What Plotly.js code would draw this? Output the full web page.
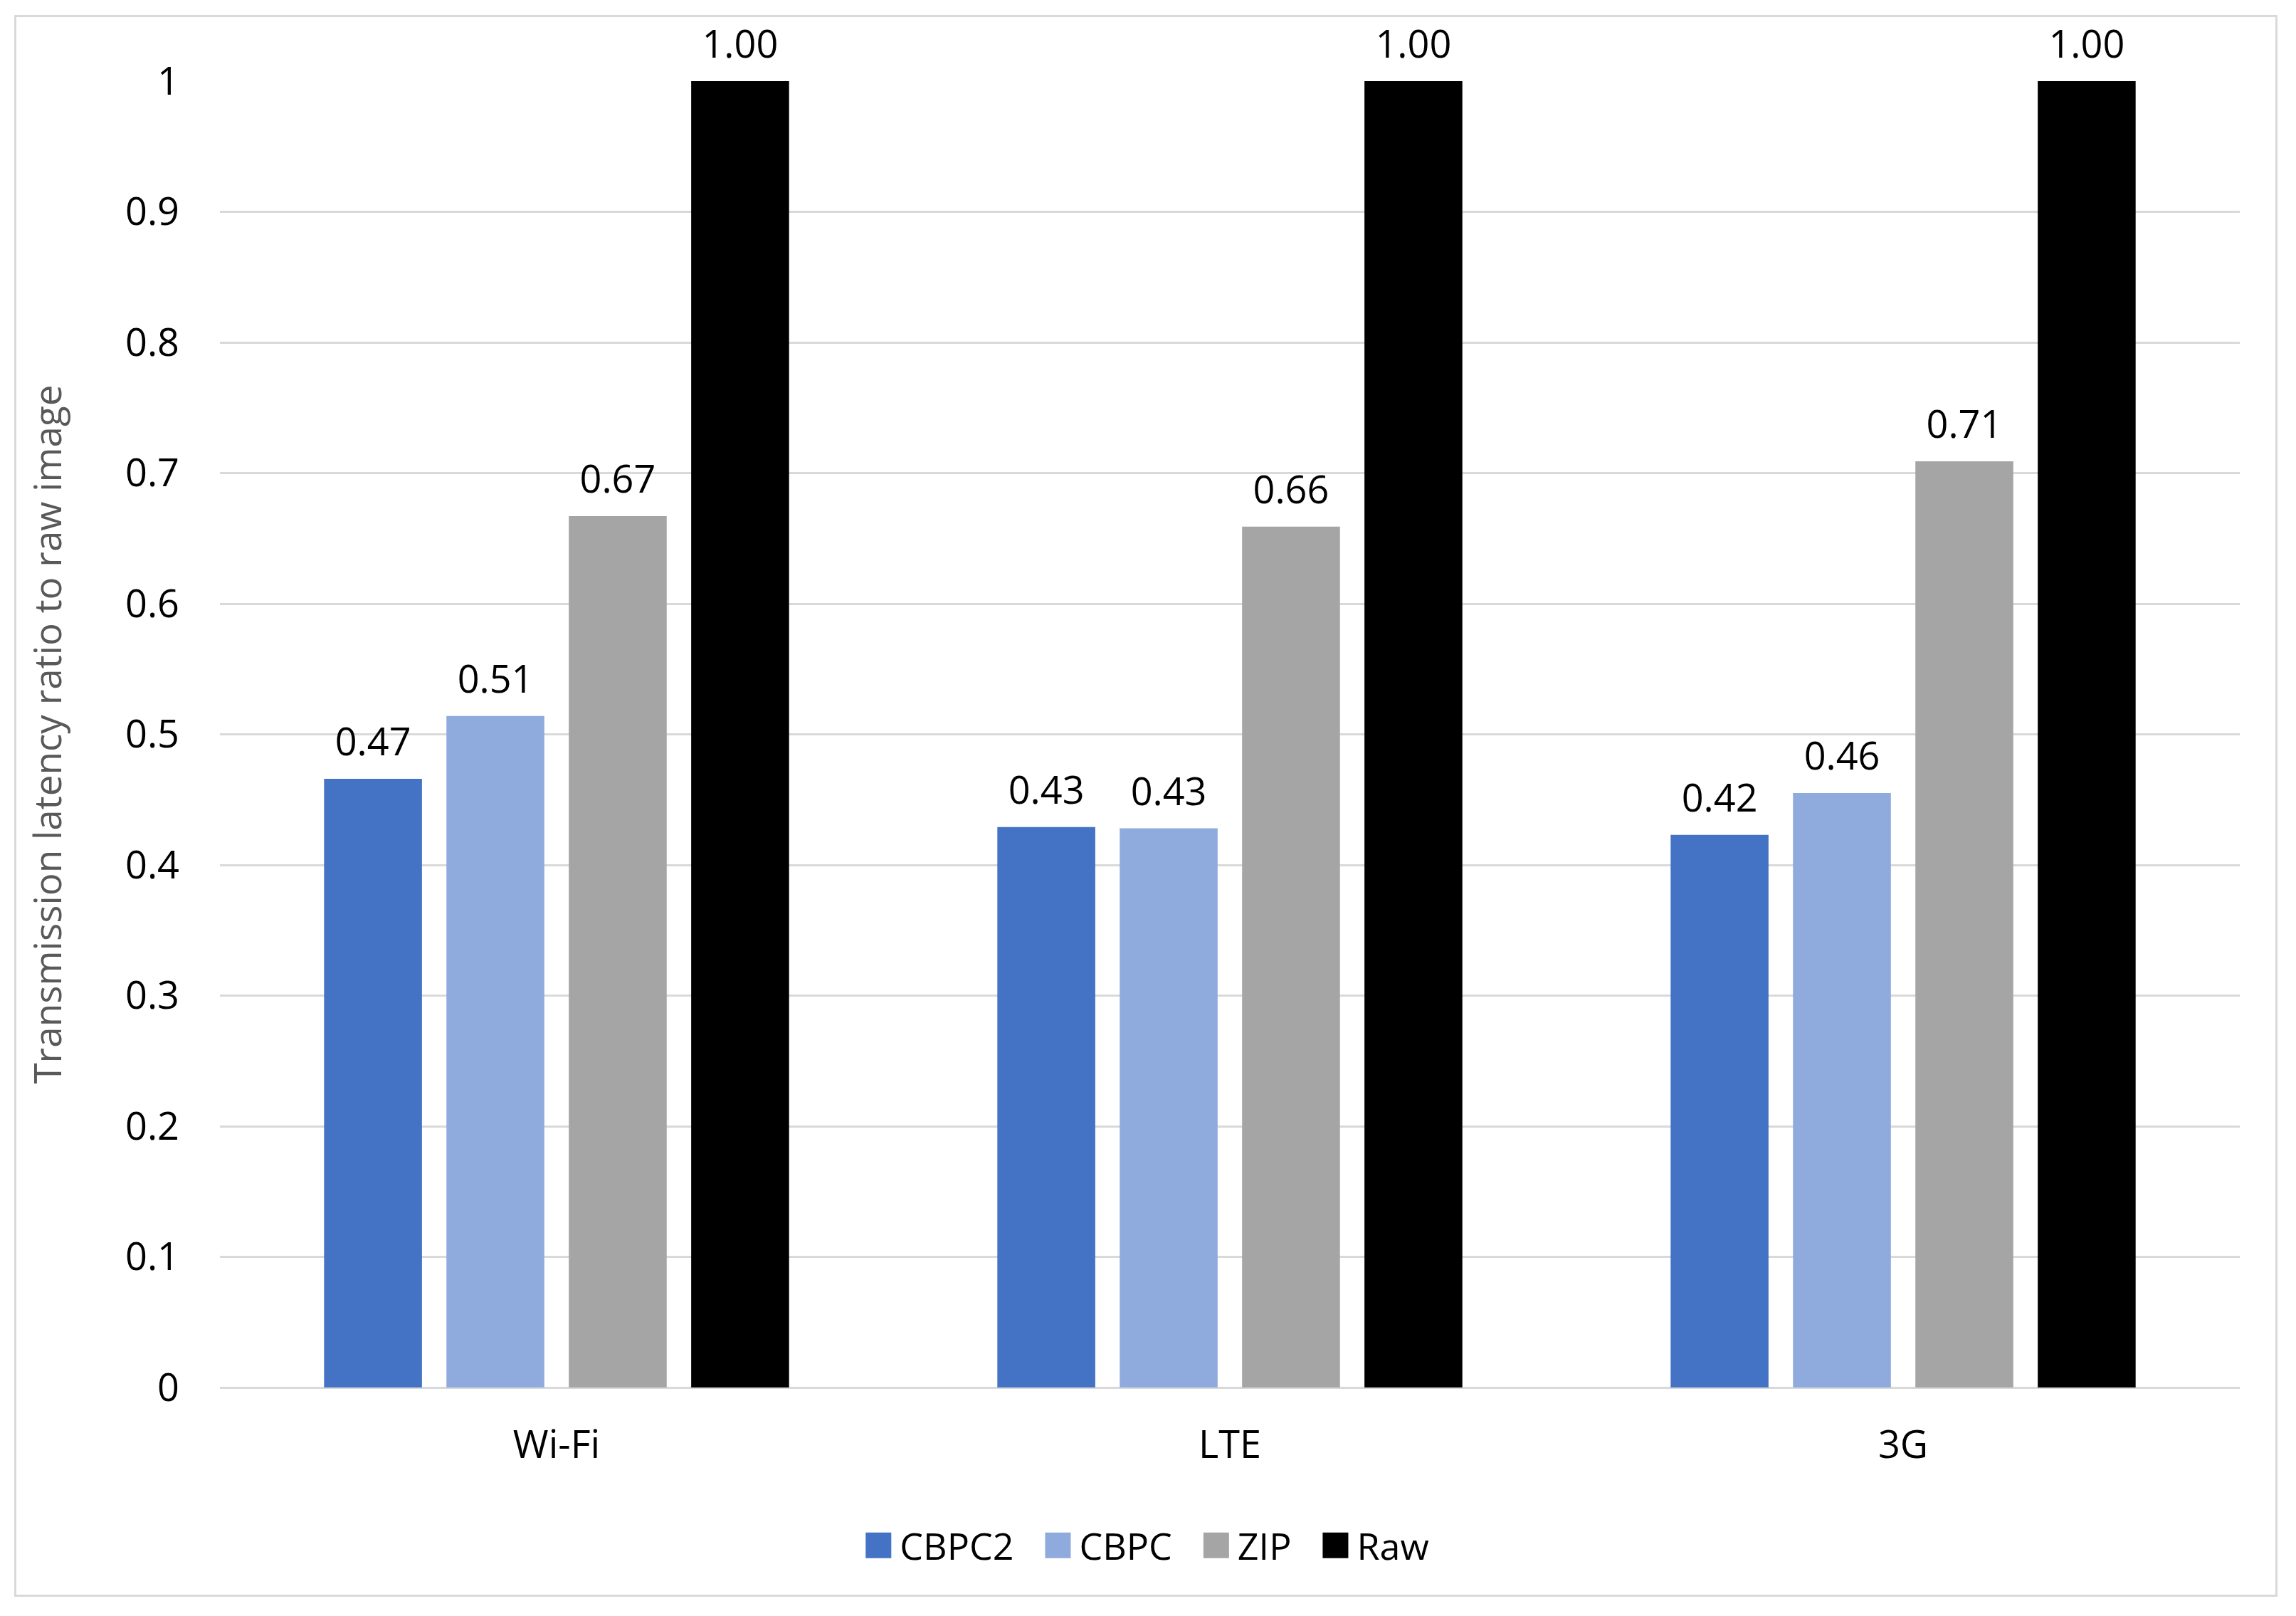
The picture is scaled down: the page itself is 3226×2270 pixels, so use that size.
<!DOCTYPE html>
<html>
<head>
<meta charset="utf-8">
<script src="https://cdn.plot.ly/plotly-3.0.1.min.js"></script>
<style>
  body { margin: 0; background: #fff; }
  #chart { position: absolute; left: 20px; top: 21px; width: 3180px; height: 2222px;
           border: 3px solid #d9d9d9; box-sizing: border-box; }
</style>
</head>
<body>
<div id="chart"></div>
<script>
// categorias (redes) e séries
var redes = ['Wi-Fi', 'LTE', '3G'];
var seriesNomes = ['CBPC2', 'CBPC', 'ZIP', 'Raw'];
var cbpc2 = [0.466, 0.429, 0.423];
var cbpc = [0.514, 0.428, 0.455];
var zip = [0.667, 0.659, 0.709];
var raw = [1.0, 1.0, 1.0];
var cores = ['#4472c4', '#8faadc', '#a5a5a5', '#000000'];
var yTicks = [0, 0.1, 0.2, 0.3, 0.4, 0.5, 0.6, 0.7, 0.8, 0.9, 1];

var fonte = 'Open Sans, Lato, sans-serif';
var valores = [cbpc2, cbpc, zip, raw];

var data = [];
for (var i in valores) {
  data.push({
    type: 'bar',
    x: redes,
    y: valores[i],
    // espaço extra depois do nome p/ afastar os itens da legenda
    name: seriesNomes[i] + (i < valores.length - 1 ? '\u00a0\u00a0' : ''),
    marker: {color: cores[i]},
    texttemplate: '%{y:.2f}',
    textposition: 'outside',
    textfont: {family: fonte, size: 54, color: '#000'},
    cliponaxis: false,
    hoverinfo: 'x+y'
  });
}

var layout = {
  width: 3174, height: 2216,
  margin: {l: 286, r: 50, t: 90, b: 291},
  paper_bgcolor: '#fff', plot_bgcolor: '#fff',
  barmode: 'group',
  bargap: 0.273,
  bargroupgap: 0.2,
  font: {family: fonte, size: 52, color: '#000'},
  showlegend: true,
  // legenda centrada na figura toda, não na área do gráfico
  legend: {orientation: 'h', x: 0.458, xanchor: 'center', y: -0.121, yanchor: 'middle',
           font: {family: fonte, size: 52, color: '#000'}, itemwidth: 50, traceorder: 'normal'},
  xaxis: {
    showgrid: false, zeroline: false, showline: false, ticks: '',
    ticklabelstandoff: 44,
    tickfont: {family: fonte, size: 54, color: '#000'}
  },
  yaxis: {
    range: [0, 1], tickvals: yTicks, ticktext: yTicks.map(String),
    showgrid: true, gridcolor: '#d9d9d9', gridwidth: 3,
    zeroline: true, zerolinecolor: '#d9d9d9', zerolinewidth: 3,
    showline: false, ticks: '', ticklabelstandoff: 56,
    tickfont: {family: fonte, size: 54, color: '#000'},
    title: {text: 'Transmission latency ratio to raw image', standoff: 72,
            font: {family: fonte, size: 53, color: '#595959'}}
  }
};

Plotly.newPlot('chart', data, layout, {displayModeBar: false, staticPlot: true}).then(function () {
  // quadradinhos da legenda maiores (o plotly fixa em 12px)
  var simbolos = document.querySelectorAll('.legend .legendpoints path');
  for (var k = 0; k < simbolos.length; k++) {
    simbolos[k].setAttribute('d', 'M18,18H-18V-18H18Z');
  }
  // rótulos dos valores um pouco mais afastados das barras
  var rotulos = document.querySelectorAll('.bartext');
  for (var k = 0; k < rotulos.length; k++) {
    var t = rotulos[k].getAttribute('transform') || '';
    rotulos[k].setAttribute('transform', 'translate(0,-14) ' + t);
  }
});
</script>
</body>
</html>
